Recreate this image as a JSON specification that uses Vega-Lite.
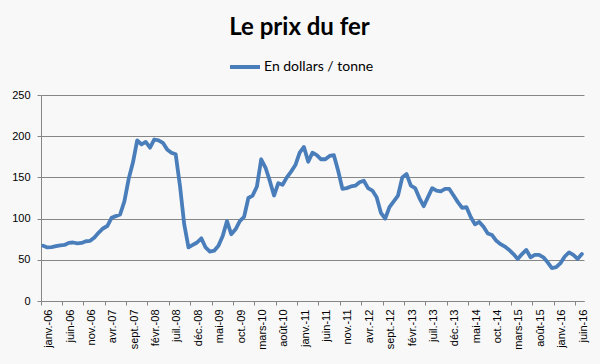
{
  "$schema": "https://vega.github.io/schema/vega-lite/v6.json",
  "autosize": "none",
  "padding": {"left": 41, "top": 95, "right": 16, "bottom": 63},
  "width": 543,
  "height": 206,
  "background": "#f8f8f8",
  "title": {
    "text": "Le prix du fer",
    "font": "Lato",
    "fontSize": 24,
    "fontWeight": "bold",
    "color": "#000000",
    "anchor": "middle",
    "dx": -13,
    "offset": 10
  },
  "config": {
    "view": {"stroke": null},
    "axis": {
      "labelFont": "Liberation Sans",
      "labelFontSize": 11,
      "labelColor": "#000000",
      "domainColor": "#868686",
      "tickColor": "#868686",
      "gridColor": "#868686",
      "tickSize": 4,
      "title": null
    }
  },
  "data": {
    "values": [
      {"mois": "janv.-06", "prix": 67}, {"mois": "févr.-06", "prix": 65}, {"mois": "mars-06", "prix": 65.5}, {"mois": "avr.-06", "prix": 66.5}, {"mois": "mai-06", "prix": 67.5}, {"mois": "juin-06", "prix": 68}, {"mois": "juil.-06", "prix": 70.5}, {"mois": "août-06", "prix": 71}, {"mois": "sept.-06", "prix": 70}, {"mois": "oct.-06", "prix": 70.5}, {"mois": "nov.-06", "prix": 72.5}, {"mois": "déc.-06", "prix": 73},
      {"mois": "janv.-07", "prix": 77}, {"mois": "févr.-07", "prix": 83}, {"mois": "mars-07", "prix": 88}, {"mois": "avr.-07", "prix": 91}, {"mois": "mai-07", "prix": 101}, {"mois": "juin-07", "prix": 103}, {"mois": "juil.-07", "prix": 105}, {"mois": "août-07", "prix": 121}, {"mois": "sept.-07", "prix": 148}, {"mois": "oct.-07", "prix": 168}, {"mois": "nov.-07", "prix": 195}, {"mois": "déc.-07", "prix": 190},
      {"mois": "janv.-08", "prix": 193}, {"mois": "févr.-08", "prix": 186}, {"mois": "mars-08", "prix": 196}, {"mois": "avr.-08", "prix": 195}, {"mois": "mai-08", "prix": 192}, {"mois": "juin-08", "prix": 184}, {"mois": "juil.-08", "prix": 180}, {"mois": "août-08", "prix": 178}, {"mois": "sept.-08", "prix": 140}, {"mois": "oct.-08", "prix": 93}, {"mois": "nov.-08", "prix": 65}, {"mois": "déc.-08", "prix": 68},
      {"mois": "janv.-09", "prix": 71}, {"mois": "févr.-09", "prix": 76}, {"mois": "mars-09", "prix": 65}, {"mois": "avr.-09", "prix": 60}, {"mois": "mai-09", "prix": 61}, {"mois": "juin-09", "prix": 67}, {"mois": "juil.-09", "prix": 79}, {"mois": "août-09", "prix": 97}, {"mois": "sept.-09", "prix": 81}, {"mois": "oct.-09", "prix": 87}, {"mois": "nov.-09", "prix": 97}, {"mois": "déc.-09", "prix": 102},
      {"mois": "janv.-10", "prix": 125}, {"mois": "févr.-10", "prix": 128}, {"mois": "mars-10", "prix": 139}, {"mois": "avr.-10", "prix": 172}, {"mois": "mai-10", "prix": 162}, {"mois": "juin-10", "prix": 146}, {"mois": "juil.-10", "prix": 128}, {"mois": "août-10", "prix": 143}, {"mois": "sept.-10", "prix": 141}, {"mois": "oct.-10", "prix": 150}, {"mois": "nov.-10", "prix": 157}, {"mois": "déc.-10", "prix": 165},
      {"mois": "janv.-11", "prix": 180}, {"mois": "févr.-11", "prix": 187}, {"mois": "mars-11", "prix": 169}, {"mois": "avr.-11", "prix": 180}, {"mois": "mai-11", "prix": 177}, {"mois": "juin-11", "prix": 172}, {"mois": "juil.-11", "prix": 172}, {"mois": "août-11", "prix": 176}, {"mois": "sept.-11", "prix": 177}, {"mois": "oct.-11", "prix": 158}, {"mois": "nov.-11", "prix": 136}, {"mois": "déc.-11", "prix": 137},
      {"mois": "janv.-12", "prix": 139}, {"mois": "févr.-12", "prix": 140}, {"mois": "mars-12", "prix": 144}, {"mois": "avr.-12", "prix": 146}, {"mois": "mai-12", "prix": 137}, {"mois": "juin-12", "prix": 134}, {"mois": "juil.-12", "prix": 126}, {"mois": "août-12", "prix": 107}, {"mois": "sept.-12", "prix": 100}, {"mois": "oct.-12", "prix": 114}, {"mois": "nov.-12", "prix": 121}, {"mois": "déc.-12", "prix": 128},
      {"mois": "janv.-13", "prix": 150}, {"mois": "févr.-13", "prix": 154}, {"mois": "mars-13", "prix": 140}, {"mois": "avr.-13", "prix": 137}, {"mois": "mai-13", "prix": 125}, {"mois": "juin-13", "prix": 115}, {"mois": "juil.-13", "prix": 126}, {"mois": "août-13", "prix": 137}, {"mois": "sept.-13", "prix": 134}, {"mois": "oct.-13", "prix": 133}, {"mois": "nov.-13", "prix": 136}, {"mois": "déc.-13", "prix": 136},
      {"mois": "janv.-14", "prix": 128}, {"mois": "févr.-14", "prix": 120}, {"mois": "mars-14", "prix": 113}, {"mois": "avr.-14", "prix": 114}, {"mois": "mai-14", "prix": 102}, {"mois": "juin-14", "prix": 93}, {"mois": "juil.-14", "prix": 96}, {"mois": "août-14", "prix": 90}, {"mois": "sept.-14", "prix": 82}, {"mois": "oct.-14", "prix": 80}, {"mois": "nov.-14", "prix": 73}, {"mois": "déc.-14", "prix": 69},
      {"mois": "janv.-15", "prix": 66}, {"mois": "févr.-15", "prix": 62}, {"mois": "mars-15", "prix": 57}, {"mois": "avr.-15", "prix": 51}, {"mois": "mai-15", "prix": 57}, {"mois": "juin-15", "prix": 62}, {"mois": "juil.-15", "prix": 53}, {"mois": "août-15", "prix": 56}, {"mois": "sept.-15", "prix": 56}, {"mois": "oct.-15", "prix": 53}, {"mois": "nov.-15", "prix": 47}, {"mois": "déc.-15", "prix": 40},
      {"mois": "janv.-16", "prix": 41}, {"mois": "févr.-16", "prix": 46}, {"mois": "mars-16", "prix": 54}, {"mois": "avr.-16", "prix": 59}, {"mois": "mai-16", "prix": 56}, {"mois": "juin-16", "prix": 51}, {"mois": "juil.-16", "prix": 57}
    ]
  },
  "mark": {"type": "line", "strokeWidth": 3.8, "strokeJoin": "round", "strokeCap": "round"},
  "encoding": {
    "x": {
      "field": "mois",
      "type": "ordinal",
      "sort": null,
      "bandPosition": 0.5,
      "scale": {"type": "band", "paddingInner": 0, "paddingOuter": 0},
      "axis": {
        "values": ["janv.-06", "juin-06", "nov.-06", "avr.-07", "sept.-07", "févr.-08", "juil.-08", "déc.-08", "mai-09", "oct.-09", "mars-10", "août-10", "janv.-11", "juin-11", "nov.-11", "avr.-12", "sept.-12", "févr.-13", "juil.-13", "déc.-13", "mai-14", "oct.-14", "mars-15", "août-15", "janv.-16", "juin-16"],
        "bandPosition": 0,
        "labelAngle": -90,
        "labelAlign": "right",
        "labelBaseline": "middle",
        "labelOffset": 6,
        "labelPadding": 4,
        "grid": false
      }
    },
    "y": {
      "field": "prix",
      "type": "quantitative",
      "scale": {"domain": [0, 250]},
      "axis": {"values": [0, 50, 100, 150, 200, 250], "grid": true, "labelPadding": 7}
    },
    "color": {
      "datum": "En dollars / tonne",
      "type": "nominal",
      "scale": {"range": ["#4a7ebb"]},
      "legend": {
        "orient": "none",
        "legendX": 187,
        "legendY": -45,
        "title": null,
        "symbolType": "stroke",
        "symbolSize": 900,
        "symbolStrokeWidth": 4,
        "labelFont": "Lato",
        "labelFontSize": 14,
        "labelColor": "#000000",
        "labelOffset": 2
      }
    }
  }
}
